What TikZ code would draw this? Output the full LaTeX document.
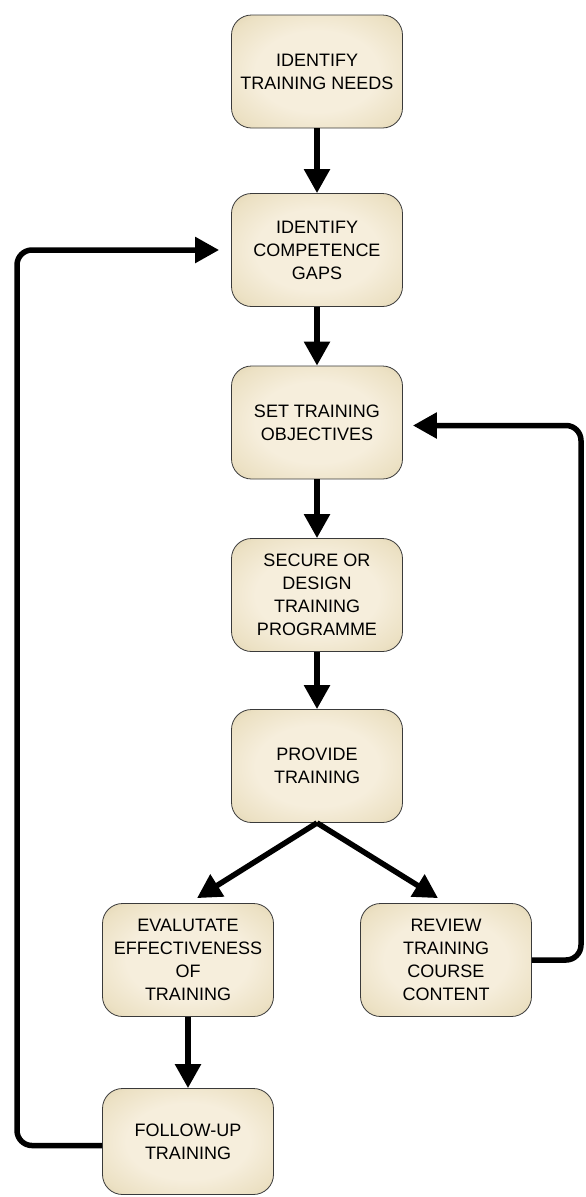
\documentclass[tikz,border=0pt]{standalone}
\usepackage{fontspec}
\setmainfont{Liberation Sans}
\usetikzlibrary{arrows.meta, positioning}

\definecolor{boxin}{HTML}{F6EEDC}
\definecolor{boxmid}{HTML}{ECE1C4}
\definecolor{boxout}{HTML}{D6C8A0}
\definecolor{boxline}{HTML}{3A3A3A}
\pgfdeclareradialshading{boxglow}{\pgfpoint{0bp}{0bp}}{color(0bp)=(boxin); color(18bp)=(boxin); color(30bp)=(boxmid); color(42bp)=(boxout); color(50bp)=(boxout)}

\tikzset{
  stepbox/.style = {rectangle, rounded corners=20pt, draw=boxline, line width=0.8pt,
    shading=boxglow, minimum width=171pt, minimum height=113pt, inner sep=2pt,
    align=center, font=\fontsize{18}{23}\selectfont},
  flow/.style = {line width=5.5pt, -{Triangle[length=24pt, width=25pt]}}
}

\begin{document}
\begin{tikzpicture}[x=1pt, y=1pt, on grid]
  \useasboundingbox (0,0) rectangle (586,-1197);
  \coordinate (leftrail) at (17,0);
  \coordinate (rightrail) at (581,0);

  \node[stepbox] (needs) at (317,-71.5) {IDENTIFY\\TRAINING NEEDS};
  \node[stepbox] (gaps) [below=178.5pt of needs] {IDENTIFY\\COMPETENCE\\GAPS};
  \node[stepbox] (objectives) [below=172.5pt of gaps] {SET TRAINING\\OBJECTIVES};
  \node[stepbox] (programme) [below=172.5pt of objectives] {SECURE OR\\DESIGN\\TRAINING\\PROGRAMME};
  \node[stepbox] (provide) [below=171pt of programme] {PROVIDE\\TRAINING};
  \node[stepbox] (evaluate) [below left=194pt and 129pt of provide] {EVALUTATE\\EFFECTIVENESS\\OF\\TRAINING};
  \node[stepbox] (review) [below right=194pt and 129pt of provide] {REVIEW\\TRAINING\\COURSE\\CONTENT};
  \node[stepbox, minimum height=106pt] (followup) [below=181.5pt of evaluate] {FOLLOW-UP\\TRAINING};

  \coordinate (evaltip) at ([xshift=9pt, yshift=5pt]evaluate.north);
  \coordinate (reviewtip) at ([xshift=-8pt, yshift=5pt]review.north);

  \draw[flow] (needs) -- (gaps);
  \draw[flow] (gaps) -- (objectives);
  \draw[flow] (objectives) -- (programme);
  \draw[flow] (programme) -- (provide);
  \draw[flow] (provide.south) -- (evaltip);
  \draw[flow] (provide.south) -- (reviewtip);
  \draw[flow] (evaluate) -- (followup);
  % feedback loops
  \draw[flow, rounded corners=15pt] ([yshift=-4pt]followup.west) -- ([yshift=-4pt]followup.west -| leftrail)
    |- ([xshift=-12pt]gaps.west);
  \draw[flow, rounded corners=15pt] (review.east) -- (review.east -| rightrail)
    |- ([xshift=10pt, yshift=-3pt]objectives.east);
\end{tikzpicture}
\end{document}
